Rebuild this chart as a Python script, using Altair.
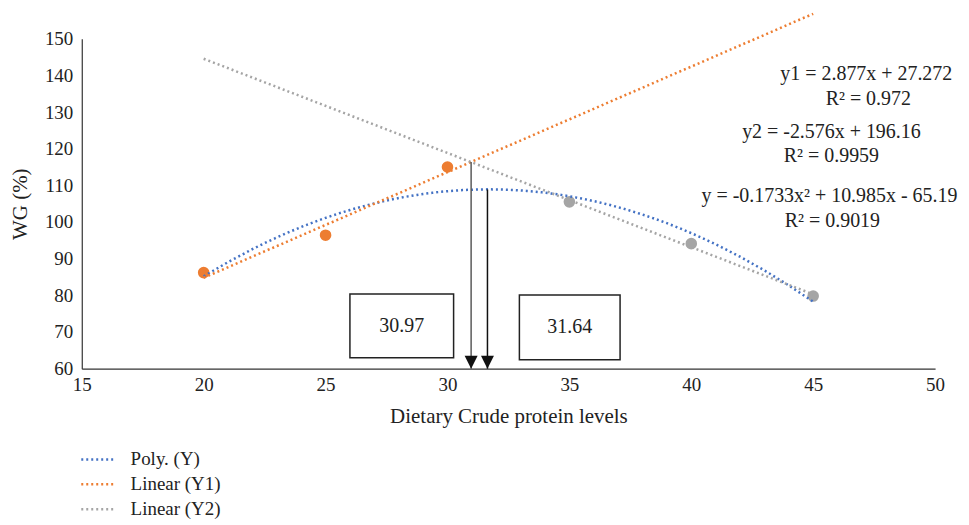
import altair as alt
import pandas as pd

# ---- data ----
CP = [20, 25, 30, 35, 40, 45]
WG = [86.2, 96.4, 115.0, 105.5, 94.1, 79.8]
GROUP = ["Y1", "Y1", "Y1", "Y2", "Y2", "Y2"]
SERIES = ["Poly. (Y)", "Linear (Y1)", "Linear (Y2)"]
COLORS = ["#4472C4", "#ED7D31", "#A5A5A5"]
X_TICKS = [15, 20, 25, 30, 35, 40, 45, 50]
Y_TICKS = [60, 70, 80, 90, 100, 110, 120, 130, 140, 150]
TREND_EXTENT = [20, 45]
ARROW_X = [30.97, 31.64]
ARROW_TOP = [116.37, 108.88]
ARROW_BOTTOM = [60, 60]
BOX_LABELS = ["30.97", "31.64"]
EQUATIONS = [
    "y1 = 2.877x + 27.272", "R² = 0.972",
    "y2 = -2.576x + 196.16", "R² = 0.9959",
    "y = -0.1733x² + 10.985x - 65.19", "R² = 0.9019",
]

FONT = "Liberation Serif"
TXT = "#222222"

df = pd.DataFrame({"x": CP, "y": WG, "g": GROUP})
arrows = pd.DataFrame({"x": ARROW_X, "top": ARROW_TOP, "bottom": ARROW_BOTTOM,
                       "c": ["#5a5a5a", "#111111"]})

xs = alt.Scale(domain=[15, 50], nice=False)
ys = alt.Scale(domain=[60, 150], nice=False)
xax = alt.Axis(values=X_TICKS, title="Dietary Crude protein levels", labelFlush=False,
               labelOverlap=False, labelPadding=7, titlePadding=11)
yax = alt.Axis(values=Y_TICKS, title="WG (%)", labelOverlap=False, labelPadding=9,
               titlePadding=14)

X = alt.X("x:Q", scale=xs, axis=xax)
Y = alt.Y("y:Q", scale=ys, axis=yax)

col = alt.Color("series:N", scale=alt.Scale(domain=SERIES, range=COLORS),
                legend=alt.Legend(orient="none", legendX=-2, legendY=412, title=None,
                                  symbolType="stroke", symbolSize=1024,
                                  symbolStrokeWidth=2.5, symbolDash=[2, 3],
                                  labelFont=FONT, labelFontSize=19, labelColor=TXT,
                                  labelOffset=16, clipHeight=20, rowPadding=5,
                                  padding=0, direction="vertical"))

base = alt.Chart(df)

pts_y1 = base.transform_filter("datum.g == 'Y1'").mark_circle(
    size=135, opacity=1, color=COLORS[1]).encode(x=X, y=Y)
pts_y2 = base.transform_filter("datum.g == 'Y2'").mark_circle(
    size=135, opacity=1, color=COLORS[2]).encode(x=X, y=Y)

line_kw = dict(strokeDash=[2, 3], strokeWidth=2.5, clip=False)

poly = base.transform_regression("x", "y", method="poly", order=2,
                                 extent=TREND_EXTENT).transform_calculate(
    series="'%s'" % SERIES[0]).mark_line(**line_kw).encode(x=X, y=Y, color=col)
lin1 = base.transform_filter("datum.g == 'Y1'").transform_regression(
    "x", "y", extent=TREND_EXTENT).transform_calculate(
    series="'%s'" % SERIES[1]).mark_line(**line_kw).encode(x=X, y=Y, color=col)
lin2 = base.transform_filter("datum.g == 'Y2'").transform_regression(
    "x", "y", extent=TREND_EXTENT).transform_calculate(
    series="'%s'" % SERIES[2]).mark_line(**line_kw).encode(x=X, y=Y, color=col)

arr = alt.Chart(arrows)
arrow_lines = arr.mark_rule(strokeWidth=1.5).encode(
    x=X, y=alt.Y("top:Q", scale=ys, axis=yax), y2="bottom:Q",
    color=alt.Color("c:N", scale=None))
arrow_heads = arr.mark_point(shape="M-1,-2L1,-2L0,0Z", size=169, filled=True,
                             opacity=1, color="#111111", strokeWidth=0).encode(
    x=X, y=alt.Y("bottom:Q", scale=ys, axis=yax))

one = alt.Data(values=[{}])

def box(x1, x2, y1, y2, label, cx, cy):
    r = alt.Chart(one).mark_rect(fill="white", stroke="#222222", strokeWidth=1.5).encode(
        x=alt.value(x1), x2=alt.value(x2), y=alt.value(y1), y2=alt.value(y2))
    t = alt.Chart(one).mark_text(font=FONT, fontSize=20, color=TXT, align="center",
                                 baseline="middle").encode(
        x=alt.value(cx), y=alt.value(cy), text=alt.value(label))
    return [r, t]

boxes = box(269, 373, 256, 320, BOX_LABELS[0], 321, 288) + \
        box(439, 540, 257, 322, BOX_LABELS[1], 489.5, 289)

eq_pos = [(787, 35), (789, 60), (752, 94), (752, 118), (750, 158), (753, 183)]
eqs = [alt.Chart(one).mark_text(font=FONT, fontSize=20, color=TXT, align="center",
                                baseline="middle").encode(
    x=alt.value(px), y=alt.value(py), text=alt.value(s))
    for s, (px, py) in zip(EQUATIONS, eq_pos)]

chart = alt.layer(pts_y1, pts_y2, poly, lin1, lin2, arrow_lines, arrow_heads,
                  *boxes, *eqs).properties(
    width=856, height=331,
    autosize=alt.AutoSizeParams(type="none"),
    padding={"left": 74, "top": 30, "right": 26, "bottom": 150},
).configure_view(stroke=None).configure_axis(
    grid=False, ticks=False, domainColor="#333333", domainWidth=1.2,
    labelFont=FONT, labelFontSize=19, labelColor=TXT, labelOverlap=False,
    titleFont=FONT, titleFontSize=21, titleFontWeight="normal", titleColor=TXT,
)

chart.save("out.html", embed_options={"renderer": "svg", "actions": False})
